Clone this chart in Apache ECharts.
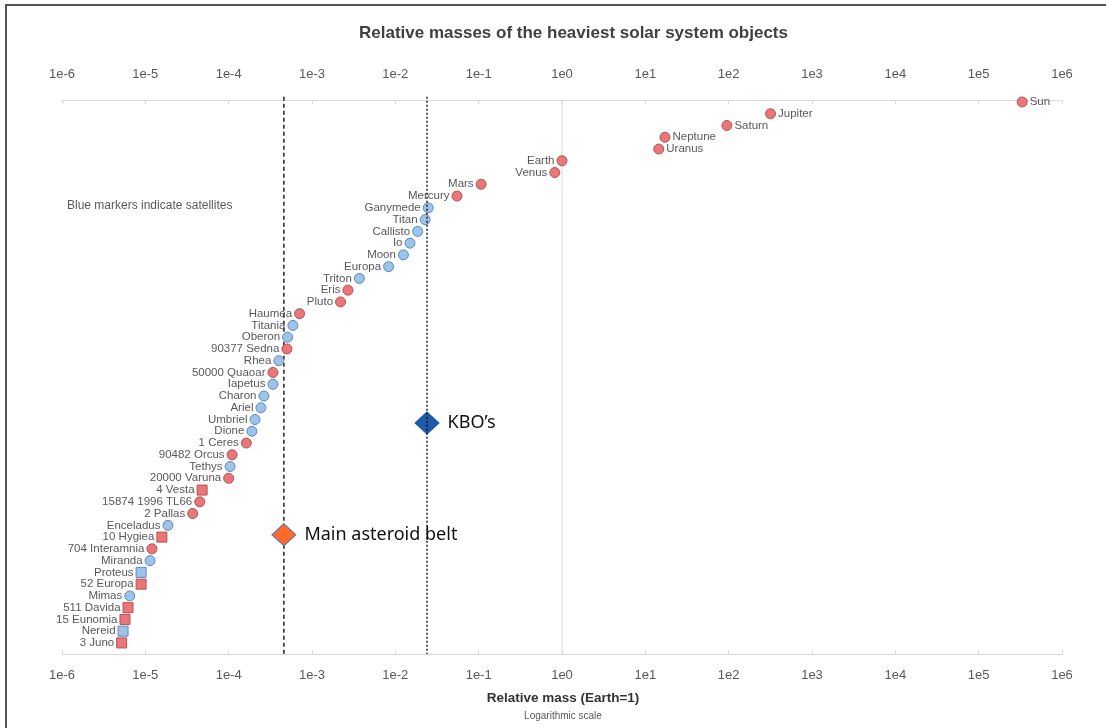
<!DOCTYPE html>
<html>
<head>
<meta charset="utf-8">
<script src="https://cdn.jsdelivr.net/npm/echarts@6/dist/echarts.min.js"></script>
<style>
html,body{margin:0;padding:0;background:#fff;}
#chart{width:1106px;height:728px;}
</style>
</head>
<body>
<div id="chart"></div>
<script>
// ---- data ----
const objectNames = ['Sun','Jupiter','Saturn','Neptune','Uranus','Earth','Venus','Mars','Mercury','Ganymede','Titan','Callisto','Io','Moon','Europa','Triton','Eris','Pluto','Haumea','Titania','Oberon','90377 Sedna','Rhea','50000 Quaoar','Iapetus','Charon','Ariel','Umbriel','Dione','1 Ceres','90482 Orcus','Tethys','20000 Varuna','4 Vesta','15874 1996 TL66','2 Pallas','Enceladus','10 Hygiea','704 Interamnia','Miranda','Proteus','52 Europa','Mimas','511 Davida','15 Eunomia','Nereid','3 Juno'];
const relativeMass = [333000,318,95.2,17.2,14.5,1,0.82,0.107,0.055,0.0248,0.0228,0.0185,0.015,0.0125,0.0083,0.0037,0.0027,0.0022,0.00071,0.00059,0.00051,0.0005,0.0004,0.00034,0.00034,0.000265,0.000244,0.000207,0.00019,0.000163,0.00011,0.000104,0.0001,0.000048,0.000045,0.000037,0.0000187,0.0000158,0.000012,0.0000114,0.0000089,0.0000089,0.0000065,0.0000062,0.0000057,0.0000054,0.0000052];
const isSatellite = [0,0,0,0,0,0,0,0,0,1,1,1,1,1,1,1,0,0,0,1,1,0,1,0,1,1,1,1,1,0,0,1,0,0,0,0,1,0,0,1,1,0,1,0,0,1,0];
const isSquare    = [0,0,0,0,0,0,0,0,0,0,0,0,0,0,0,0,0,0,0,0,0,0,0,0,0,0,0,0,0,0,0,0,0,1,0,0,0,1,0,0,1,1,0,1,1,1,1];
const labelRight  = ['Sun','Jupiter','Saturn','Neptune','Uranus'];
const regionNames = ['Main asteroid belt', "KBO\u2019s"];
const regionMass  = [0.00046, 0.024];
const regionRow   = [36.8, 27.3];
const axisTicks   = ['1e-6','1e-5','1e-4','1e-3','1e-2','1e-1','1e0','1e1','1e2','1e3','1e4','1e5','1e6'];
const rowSpan     = [-0.45, 46.94];

// ---- build ----
const FONT = 'Liberation Sans, Arial, sans-serif';
const RED = '#E8777A', RED_B = '#B9504E', BLUE = '#9DC3E6', BLUE_B = '#5A8AC6';
const pointData = objectNames.map((n, i) => ({
  name: n,
  value: [relativeMass[i], i],
  symbol: isSquare[i] ? 'rect' : 'circle',
  symbolSize: 10,
  itemStyle: {
    color: isSatellite[i] ? BLUE : RED,
    borderColor: isSatellite[i] ? BLUE_B : RED_B,
    borderWidth: 1,
    opacity: 1
  },
  label: { position: labelRight.includes(n) ? 'right' : 'left' }
}));

function tickLabel(v){
  const e = Math.round(Math.log10(v));
  const s = '1e' + e;
  return axisTicks.includes(s) ? s : '';
}

const xAxisCommon = {
  type: 'log', logBase: 10, min: 1e-6, max: 1e6, interval: 1,
  axisLine: { show: true, onZero: false, lineStyle: { color: '#D9D9D9', width: 1 } },
  axisTick: { show: true, inside: true, length: 4, lineStyle: { color: '#D9D9D9' } },
  splitLine: { show: false },
  minorTick: { show: false },
  axisLabel: { formatter: tickLabel, color: '#595959', fontSize: 13, fontFamily: FONT }
};

const chart = echarts.init(document.getElementById('chart'), null, { renderer: 'canvas' });
chart.setOption({
  animation: false,
  backgroundColor: '#fff',
  title: {
    text: 'Relative masses of the heaviest solar system objects',
    left: 354, top: 20,
    textStyle: { fontSize: 17, fontWeight: 'bold', color: '#404040', fontFamily: FONT }
  },
  grid: { left: 62, right: 44, top: 100, bottom: 74 },
  xAxis: [
    Object.assign({}, xAxisCommon, { position: 'bottom', axisLabel: Object.assign({}, xAxisCommon.axisLabel, { margin: 15 }) }),
    Object.assign({}, xAxisCommon, { position: 'top', axisLabel: Object.assign({}, xAxisCommon.axisLabel, { margin: 19 }) })
  ],
  yAxis: { type: 'value', inverse: true, min: -0.17, max: 46.94, show: false },
  series: [
    {
      type: 'line', xAxisIndex: 0, clip: false, symbol: 'none', silent: true,
      data: [[1, rowSpan[0] + 0.28], [1, rowSpan[1]]],
      lineStyle: { color: '#D9D9D9', width: 1, type: 'solid' }, z: 1
    },
    {
      type: 'line', xAxisIndex: 0, clip: false, symbol: 'none', silent: true,
      data: [[regionMass[0], rowSpan[0]], [regionMass[0], rowSpan[1]]],
      lineStyle: { color: '#111', width: 1.4, type: [4, 3] }, z: 1
    },
    {
      type: 'line', xAxisIndex: 0, clip: false, symbol: 'none', silent: true,
      data: [[regionMass[1], rowSpan[0]], [regionMass[1], rowSpan[1]]],
      lineStyle: { color: '#111', width: 1.4, type: [2, 2] }, z: 6
    },
    {
      type: 'scatter',
      xAxisIndex: 0,
      data: pointData,
      label: {
        show: true, formatter: '{b}', distance: 2,
        color: '#595959', fontSize: 11.5, fontFamily: FONT
      },
      z: 3
    },
    {
      type: 'scatter',
      xAxisIndex: 0,
      symbol: 'diamond',
      symbolSize: [24, 22],
      data: regionNames.map((n, i) => ({
        name: n, value: [regionMass[i], regionRow[i]],
        itemStyle: i === 0
          ? { color: '#FF6A2A', borderColor: '#4A74B5', borderWidth: 1, opacity: 1 }
          : { color: '#1E5AA8', borderColor: '#1E5AA8', borderWidth: 1, opacity: 1 }
      })),
      label: {
        show: true, position: 'right', distance: 8, formatter: '{b}',
        color: '#111', fontSize: 18, fontFamily: 'Noto Sans, Open Sans, sans-serif'
      },
      z: 4
    }
  ],
  graphic: [
    { type: 'rect', shape: { x: 6, y: 5, width: 1120, height: 740 }, style: { fill: 'none', stroke: '#555', lineWidth: 2 }, silent: true },
    { type: 'text', left: 67, top: 200, style: { text: 'Blue markers indicate satellites', fill: '#595959', fontSize: 12, fontFamily: FONT } },
    { type: 'text', x: 563, y: 698, style: { text: 'Relative mass (Earth=1)', fill: '#333', fontSize: 13.5, fontWeight: 'bold', align: 'center', verticalAlign: 'middle', fontFamily: FONT } },
    { type: 'text', x: 563, y: 716, style: { text: 'Logarithmic scale', fill: '#595959', fontSize: 10, align: 'center', verticalAlign: 'middle', fontFamily: FONT } }
  ]
});
</script>
</body>
</html>
